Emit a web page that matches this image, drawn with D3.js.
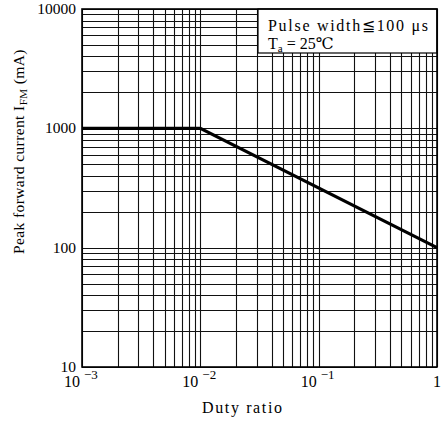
<!DOCTYPE html>
<html>
<head>
<meta charset="utf-8">
<script src="https://cdn.jsdelivr.net/npm/d3@7"></script>
<style>
  html, body { margin: 0; padding: 0; background: #fff; }
  text { font-family: "Liberation Serif", "DejaVu Serif", serif; fill: #000; }
</style>
</head>
<body>
<script>
const width = 446;
const height = 423;
const margin = { top: 9, right: 9, bottom: 56, left: 82 };

// curve: duty ratio vs peak forward current (mA)
const duty = [0.001, 0.01, 1];
const current = [1000, 1000, 100];

const xTicks = [0.001, 0.01, 0.1, 1];
const xTickBase = ['10', '10', '10', '1'];
const xTickExp = ['\u22123', '\u22122', '\u22121', ''];
const yTicks = [10, 100, 1000, 10000];
const yTickLabels = ['10', '100', '1000', '10000'];

const svg = d3.select('body')
    .append('svg')
    .attr('width', width)
    .attr('height', height);

const x = d3.scaleLog().domain([0.001, 1]).range([margin.left, width - margin.right]);
const y = d3.scaleLog().domain([10, 10000]).range([height - margin.bottom, margin.top]);

// grid
const grid = svg.append('g').attr('stroke', '#111').attr('stroke-width', 1.1);
grid.selectAll('.vg')
    .data(x.ticks())
    .enter()
    .append('line')
    .attr('x1', d => Math.round(x(d)) + 0.5)
    .attr('x2', d => Math.round(x(d)) + 0.5)
    .attr('y1', y(10))
    .attr('y2', y(10000));
grid.selectAll('.hg')
    .data(y.ticks())
    .enter()
    .append('line')
    .attr('y1', d => Math.round(y(d)) + 0.5)
    .attr('y2', d => Math.round(y(d)) + 0.5)
    .attr('x1', x(0.001))
    .attr('x2', x(1));

// legend box
const legend = svg.append('g');
legend.append('rect')
    .attr('x', 258)
    .attr('y', y(10000))
    .attr('width', x(1) - 258)
    .attr('height', 44)
    .attr('fill', '#fff')
    .attr('stroke', '#000')
    .attr('stroke-width', 1.2);
legend.append('text')
    .attr('x', 268)
    .attr('y', 31)
    .attr('textLength', 160)
    .attr('lengthAdjust', 'spacing')
    .style('font-size', '16px')
    .text('Pulse  width\u2266100 \u03bcs');
const ta = legend.append('text')
    .attr('x', 268)
    .attr('y', 49)
    .style('font-size', '16px');
ta.append('tspan').text('T');
ta.append('tspan').attr('dy', 3).style('font-size', '11px').text('a');
ta.append('tspan').attr('dy', -3).text(' = 25\u2103');

// frame
svg.append('rect')
    .attr('x', x(0.001))
    .attr('y', y(10000))
    .attr('width', x(1) - x(0.001))
    .attr('height', y(10) - y(10000))
    .attr('fill', 'none')
    .attr('stroke', '#000')
    .attr('stroke-width', 1.6);

// curve
const line = d3.line().x((d, i) => x(duty[i])).y((d, i) => y(current[i]));
svg.append('path')
    .datum(duty)
    .attr('d', line)
    .attr('fill', 'none')
    .attr('stroke', '#000')
    .attr('stroke-width', 3.2);

// x tick labels
xTicks.forEach((t, i) => {
    const tx = x(t);
    if (xTickExp[i] === '') {
        svg.append('text')
            .attr('x', tx)
            .attr('y', 387)
            .attr('text-anchor', 'middle')
            .style('font-size', '16px')
            .text(xTickBase[i]);
    } else {
        svg.append('text')
            .attr('x', tx - 2)
            .attr('y', 387)
            .attr('text-anchor', 'end')
            .style('font-size', '16px')
            .text(xTickBase[i]);
        svg.append('text')
            .attr('x', tx + 2)
            .attr('y', 379)
            .style('font-size', '13px')
            .text(xTickExp[i]);
    }
});

// y tick labels
svg.selectAll('.ylab')
    .data(yTicks)
    .enter()
    .append('text')
    .attr('x', 76)
    .attr('y', d => y(d) + 5)
    .attr('text-anchor', 'end')
    .style('font-size', '15.5px')
    .text((d, i) => yTickLabels[i]);

// axis titles
svg.append('text')
    .attr('x', 202)
    .attr('y', 413)
    .attr('textLength', 80)
    .attr('lengthAdjust', 'spacing')
    .style('font-size', '16px')
    .text('Duty  ratio');

const yt = svg.append('text')
    .attr('transform', 'translate(24, 254) rotate(-90)')
    .style('font-size', '15.5px')
    .style('letter-spacing', '0.4px');
yt.append('tspan').text('Peak forward current I');
yt.append('tspan').attr('dy', 3).style('font-size', '11px').text('FM');
yt.append('tspan').attr('dy', -3).text(' (mA)');
</script>
</body>
</html>
